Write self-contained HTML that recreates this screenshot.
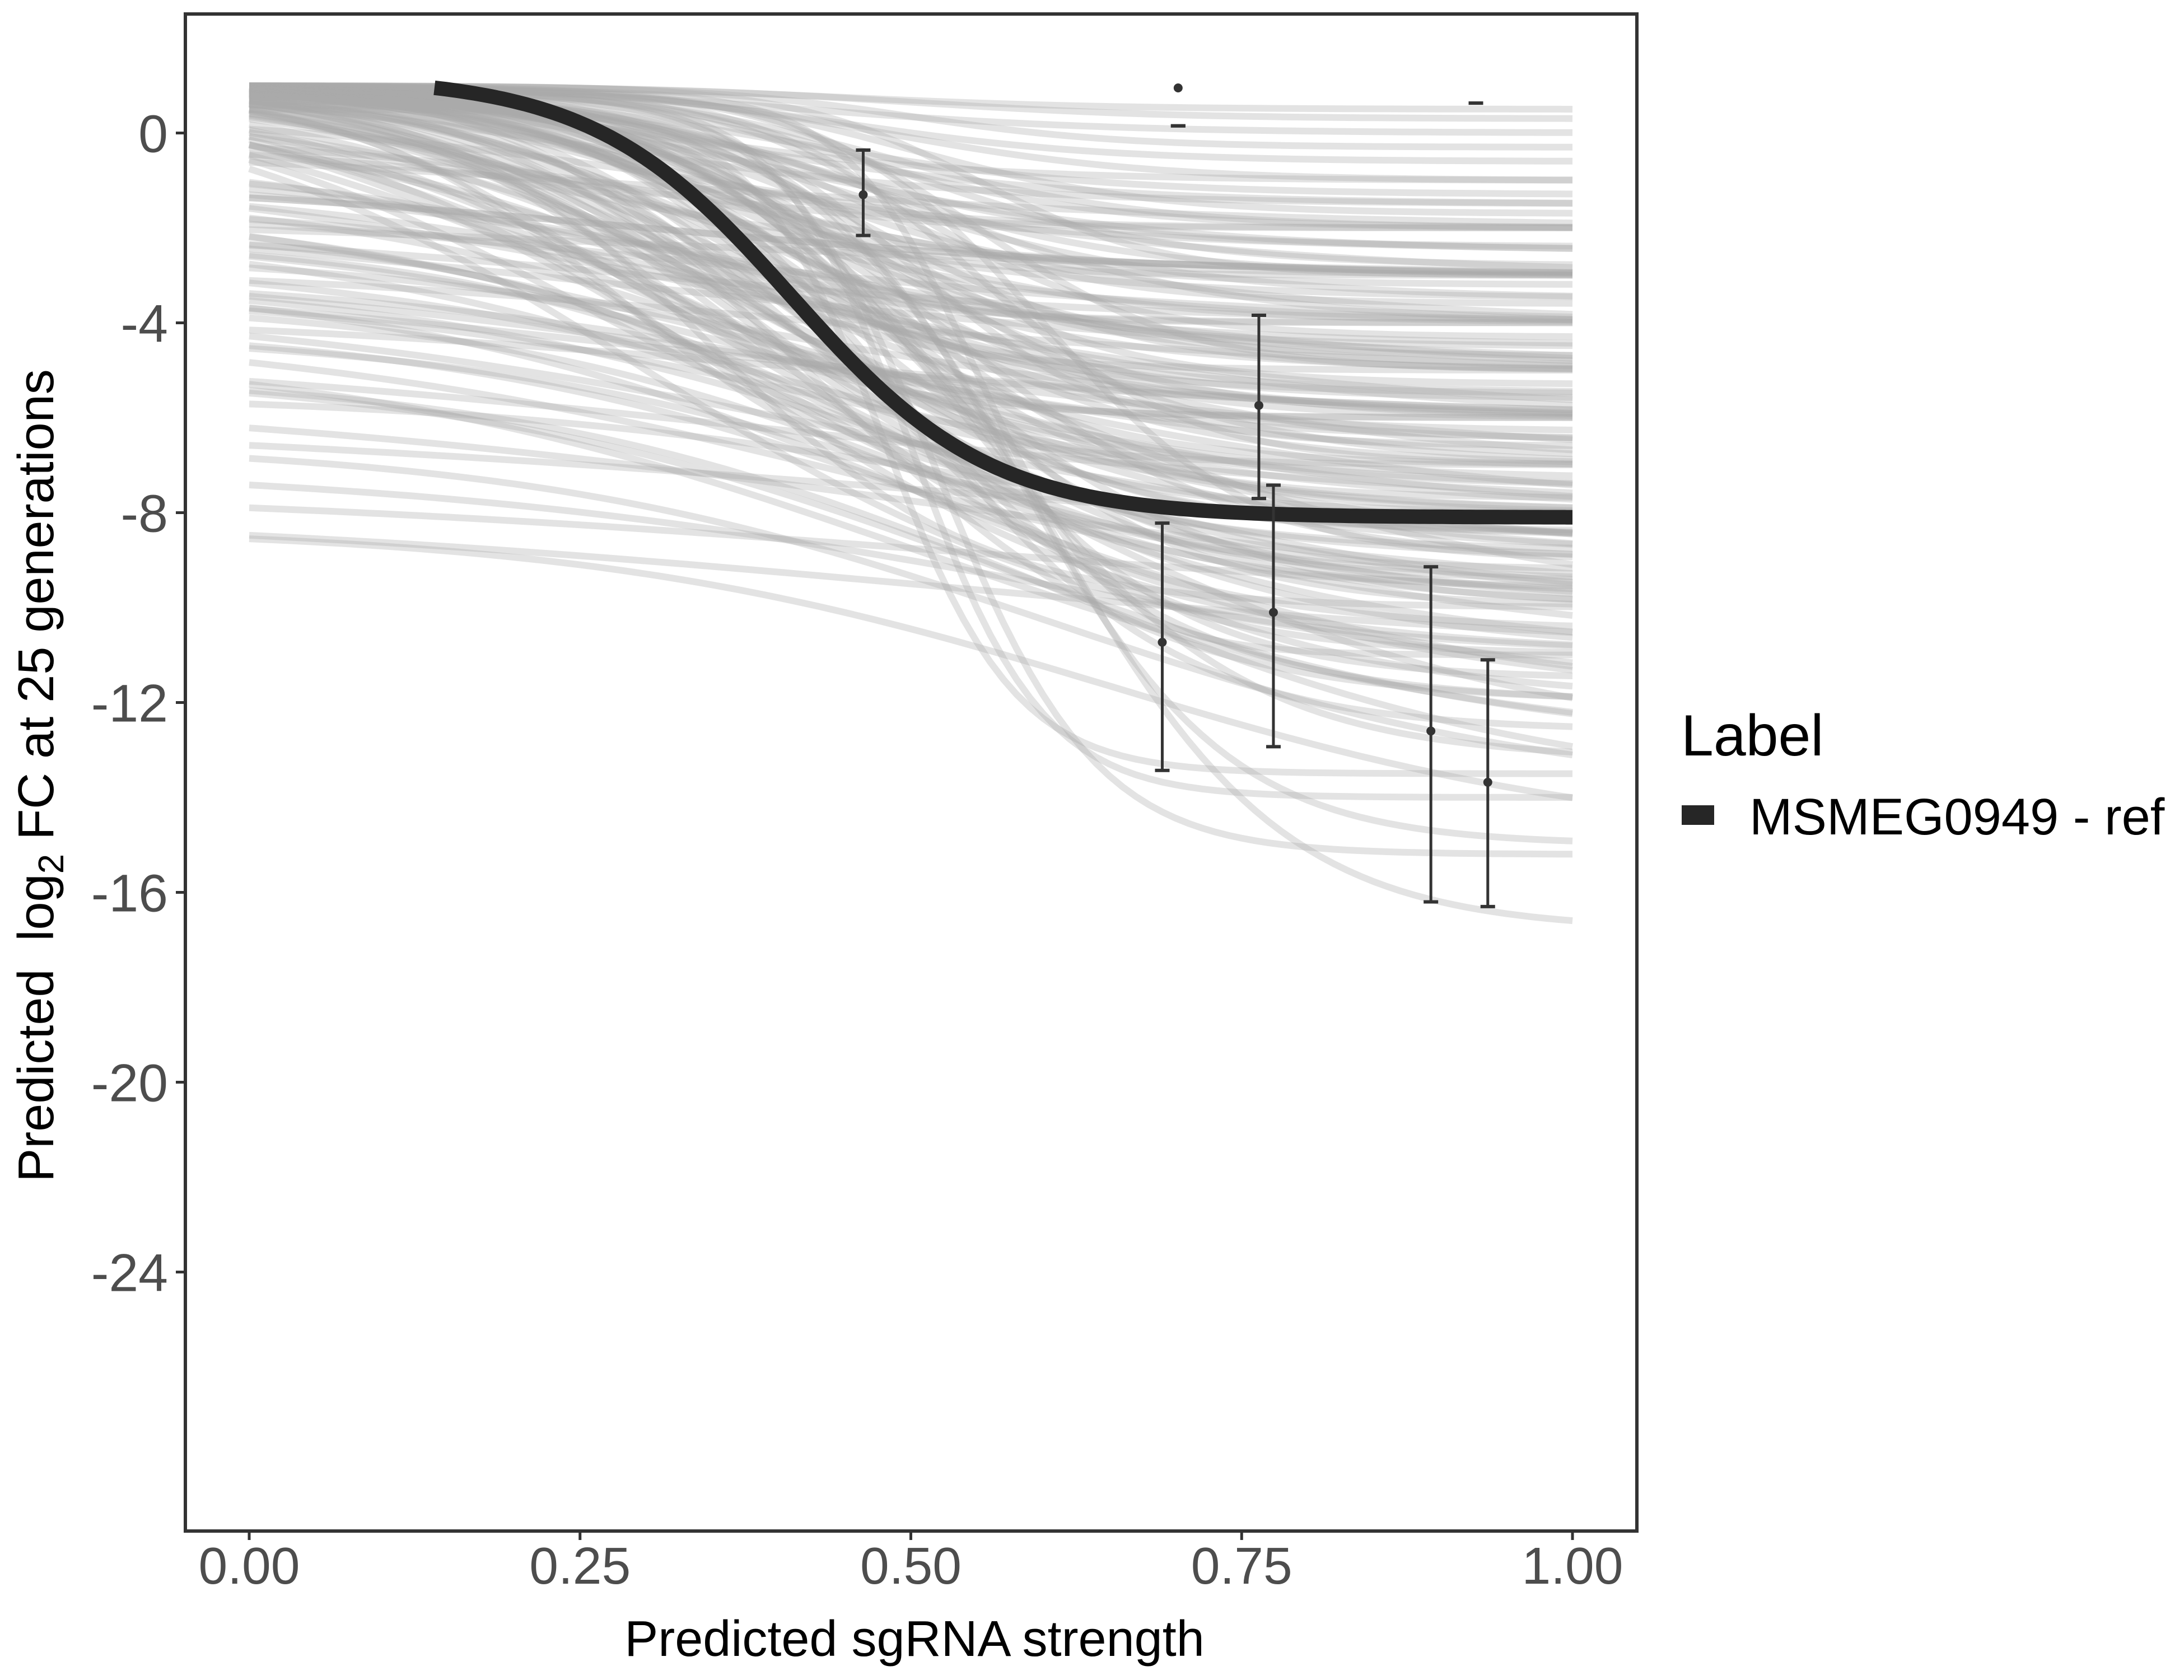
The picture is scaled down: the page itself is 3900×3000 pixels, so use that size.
<!DOCTYPE html>
<html><head><meta charset="utf-8"><style>
html,body{margin:0;padding:0;background:#fff;}
svg{display:block;font-family:"Liberation Sans",Arial,sans-serif;}
</style></head><body>
<svg id="chart" width="3900" height="3000" viewBox="0 0 3900 3000" xmlns="http://www.w3.org/2000/svg">
<defs><clipPath id="pclip"><rect x="333" y="27" width="2588" height="2705"/></clipPath></defs>
<rect x="0" y="0" width="3900" height="3000" fill="#fff"/>
<g id="grey" clip-path="url(#pclip)"></g>
<g id="marks" clip-path="url(#pclip)"></g>
<rect x="331" y="25" width="2592" height="2709" fill="none" stroke="#333" stroke-width="6"/>
<g id="axes"></g>
<text x="1633" y="2957" font-size="90" text-anchor="middle" fill="#000">Predicted sgRNA strength</text>
<text transform="translate(95,1385) rotate(-90)" font-size="90" text-anchor="middle" fill="#000">Predicted&#160; log<tspan font-size="64" dy="18">2</tspan><tspan dy="-18"> FC at 25 generations</tspan></text>
<text x="3002" y="1349" font-size="104" fill="#000">Label</text>
<rect x="3003" y="1438" width="58" height="35" fill="#262626"/>
<text x="3124" y="1490" font-size="92" fill="#000">MSMEG0949 - ref</text>
</svg>
<script>
// background posterior curves (sigmoid parameters)
const curveTop=[1,1,1,1,1,1,1,1,1,1,1, 1,1,1,1,1,1,1,1,1,1,1,1,1,1,1, 1,1,1,1,1,1,1,1,1,1,1, 0.8,0.9,0.7,0.5,0.6,0.9, -0.5,-1,-1.5,-2,-2.5,-3,-3.5,-4,-4.5,-5,-5.5,-6,-6.5,-7,-7.5,-8,-8.3,-2,-1,0,-3,-0.5,-1.5, 1,1,1,1,1,1,1,1,1,1,1,1,1,1,
 1,1,1,1,1,1,1,1,1,1,1,1,1,1,1,1,1,1,1,1, 1,1,1,1,1,1,1,1,1,1, 1,1,1,1,1,1,1,1,1,1,
 0.5,0,-0.5,-1,-1.5,-2,-2.5,-3,-3.5,-4,-4.5,-5,0.5,0,-0.5,-1,-1.5,-2,-2.5,-3, -0.2,-0.8,-1.2,-1.8,-2.2,-2.8,-3.3,-3.8,-4.2,-5.5];
const curveBottom=[0.5,0.3,0,-0.3,-0.6,-1,-1.3,-1.7,-2,-2.4,-2.8, -3.2,-3.6,-4,-4.3,-4.7,-5,-5.3,-5.6,-6,-6.3,-6.6,-7,-7.3,-7.7,-8, -8.4,-8.8,-9.2,-9.6,-10,-10.5,-11,-11.5,-12,-12.6,-13.2, -14,-15.2,-16.8,-13.5,-15,-11, -6,-8,-5,-10,-7,-12,-9,-11,-8,-13,-10,-9,-14,-12,-10,-11,-15,-4,-3,-2.5,-6,-10,-13, -2,-3,-4,-5,-6,-7,-3,-5,-7,-9,-4,-6,-8,-10,
 -1,-1.5,-2,-2.5,-3,-3.5,-4,-4.5,-5,-5.5,-6,-6.5,-7,-7.5,-8,-8.5,-9,-9.5,-10,-11, -2,-3,-4,-5,-6,-7,-8,-9,-10,-12, -1.5,-3.5,-5.5,-7.5,-9.5,-4.5,-6.5,-8.5,-3,-11,
 -3,-4,-5,-6,-7,-8,-9,-10,-11,-12,-13,-14, -6,-8,-10,-3,-4,-12,-6,-7, -2,-5,-9,-3,-11,-5,-8,-6,-10,-9];
const curveMid=[0.45,0.5,0.42,0.5,0.45,0.48,0.4,0.5,0.45,0.42,0.5, 0.4,0.45,0.38,0.5,0.42,0.36,0.47,0.4,0.44,0.38,0.5,0.42,0.35,0.46,0.4, 0.44,0.38,0.48,0.42,0.5,0.4,0.46,0.52,0.44,0.5,0.55, 0.5,0.52,0.6,0.48,0.58,0.55, 0.35,0.4,0.3,0.45,0.4,0.5,0.45,0.5,0.4,0.55,0.5,0.5,0.6,0.6,0.5,0.5,0.65,0.3,0.3,0.3,0.3,0.55,0.55, 0.3,0.33,0.35,0.3,0.33,0.3,0.55,0.55,0.55,0.6,0.25,0.25,0.28,0.35,
 0.3,0.35,0.28,0.4,0.32,0.45,0.3,0.38,0.42,0.33,0.36,0.4,0.44,0.31,0.37,0.41,0.34,0.39,0.43,0.36, 0.48,0.45,0.5,0.47,0.46,0.5,0.48,0.52,0.5,0.49, 0.25,0.27,0.29,0.3,0.32,0.22,0.24,0.26,0.2,0.3,
 0.4,0.45,0.38,0.42,0.5,0.44,0.48,0.5,0.52,0.55,0.5,0.6, 0.35,0.4,0.45,0.3,0.35,0.5,0.4,0.45, 0.3,0.4,0.45,0.35,0.5,0.4,0.45,0.4,0.5,0.55];
const curveScale=[0.1,0.1,0.12,0.08,0.1,0.1,0.12,0.09,0.1,0.11,0.1, 0.1,0.09,0.12,0.08,0.1,0.13,0.09,0.11,0.1,0.12,0.08,0.1,0.14,0.09,0.1, 0.1,0.12,0.09,0.11,0.1,0.13,0.1,0.09,0.12,0.1,0.1, 0.05,0.06,0.09,0.05,0.08,0.05, 0.25,0.25,0.3,0.2,0.3,0.2,0.25,0.25,0.3,0.2,0.3,0.35,0.2,0.25,0.3,0.3,0.2,0.2,0.2,0.2,0.25,0.2,0.2, 0.08,0.08,0.07,0.09,0.08,0.1,0.07,0.08,0.08,0.08,0.1,0.1,0.1,0.1,
 0.12,0.14,0.1,0.15,0.12,0.13,0.16,0.11,0.14,0.12,0.15,0.13,0.12,0.16,0.14,0.12,0.15,0.13,0.14,0.16, 0.1,0.11,0.12,0.1,0.11,0.12,0.1,0.11,0.12,0.11, 0.15,0.16,0.15,0.17,0.16,0.18,0.17,0.16,0.18,0.17,
 0.2,0.18,0.22,0.2,0.18,0.2,0.22,0.2,0.18,0.2,0.22,0.2, 0.15,0.14,0.16,0.2,0.22,0.15,0.18,0.2, 0.25,0.2,0.18,0.25,0.16,0.22,0.2,0.24,0.18,0.2];
// main fitted curve
const mainTop=1.2, mainBottom=-8.1, mainMid=0.41, mainScale=0.075, mainStart=0.14;
// observed points with error bars
const ebX=[0.464,0.702,0.927,0.690,0.763,0.774,0.893,0.936];
const ebY=[-1.3,0.95,null,-10.73,-5.74,-10.1,-12.6,-13.68];
const ebHi=[-0.36,0.15,0.63,-8.22,-3.84,-7.42,-9.14,-11.1];
const ebLo=[-2.16,0.15,0.63,-13.43,-7.7,-12.93,-16.2,-16.3];
const xTicks=[0,0.25,0.5,0.75,1];
const xTickLabels=["0.00","0.25","0.50","0.75","1.00"];
const yTicks=[0,-4,-8,-12,-16,-20,-24];
const yTickLabels=["0","-4","-8","-12","-16","-20","-24"];

const NS="http://www.w3.org/2000/svg";
function sx(v){return 445+v*2363;}
function sy(v){return 237.5-v*84.75;}
function sig(x,t,b,m,s){return t+(b-t)/(1+Math.exp(-(x-m)/s));}
function mk(tag,parent){const e=document.createElementNS(NS,tag);parent.appendChild(e);return e;}

const grey=document.getElementById('grey');
for(let i=0;i<curveTop.length;i++){
  let pts=[];
  for(let k=0;k<=100;k++){const x=k/100;pts.push(sx(x).toFixed(1)+','+sy(sig(x,curveTop[i],curveBottom[i],curveMid[i],curveScale[i])).toFixed(1));}
  const p=mk('polyline',grey);
  p.setAttribute('points',pts.join(' '));
  p.setAttribute('fill','none');p.setAttribute('stroke','#aaaaaa');p.setAttribute('stroke-opacity','0.33');p.setAttribute('stroke-width','12');
  
  
}
const marks=document.getElementById('marks');
let mp=[];
for(let k=0;k<=200;k++){const x=mainStart+(1-mainStart)*k/200;mp.push(sx(x).toFixed(1)+','+sy(sig(x,mainTop,mainBottom,mainMid,mainScale)).toFixed(1));}
const ml=mk('polyline',marks);
ml.setAttribute('points',mp.join(' '));ml.setAttribute('fill','none');ml.setAttribute('stroke','#262626');ml.setAttribute('stroke-width','26');



for(let i=0;i<ebX.length;i++){
  const g=mk('g',marks);
  
  
  const x=sx(ebX[i]);
  const v=mk('line',g);v.setAttribute('x1',x);v.setAttribute('x2',x);v.setAttribute('y1',sy(ebHi[i]));v.setAttribute('y2',sy(ebLo[i]));v.setAttribute('stroke','#333');v.setAttribute('stroke-width','5');
  [ebHi[i],ebLo[i]].forEach(c=>{const l=mk('line',g);l.setAttribute('x1',x-13);l.setAttribute('x2',x+13);l.setAttribute('y1',sy(c));l.setAttribute('y2',sy(c));l.setAttribute('stroke','#333');l.setAttribute('stroke-width','6');});
  if(ebY[i]!==null){const c=mk('circle',g);c.setAttribute('cx',x);c.setAttribute('cy',sy(ebY[i]));c.setAttribute('r','8');c.setAttribute('fill','#333');}
}
const axes=document.getElementById('axes');
xTicks.forEach((t,i)=>{
  const l=mk('line',axes);l.setAttribute('x1',sx(t));l.setAttribute('x2',sx(t));l.setAttribute('y1',2734);l.setAttribute('y2',2750);l.setAttribute('stroke','#333');l.setAttribute('stroke-width','5');
  
  
  const tx=mk('text',axes);tx.setAttribute('x',sx(t));tx.setAttribute('y',2828);tx.setAttribute('font-size','93');tx.setAttribute('text-anchor','middle');tx.setAttribute('fill','#4d4d4d');tx.textContent=xTickLabels[i];
  
  
});
yTicks.forEach((t,i)=>{
  const l=mk('line',axes);l.setAttribute('x1',314);l.setAttribute('x2',331);l.setAttribute('y1',sy(t));l.setAttribute('y2',sy(t));l.setAttribute('stroke','#333');l.setAttribute('stroke-width','5');
  
  
  const tx=mk('text',axes);tx.setAttribute('x',300);tx.setAttribute('y',sy(t)+34);tx.setAttribute('font-size','95');tx.setAttribute('text-anchor','end');tx.setAttribute('fill','#4d4d4d');tx.textContent=yTickLabels[i];
  
  
});
</script>
</body></html>
